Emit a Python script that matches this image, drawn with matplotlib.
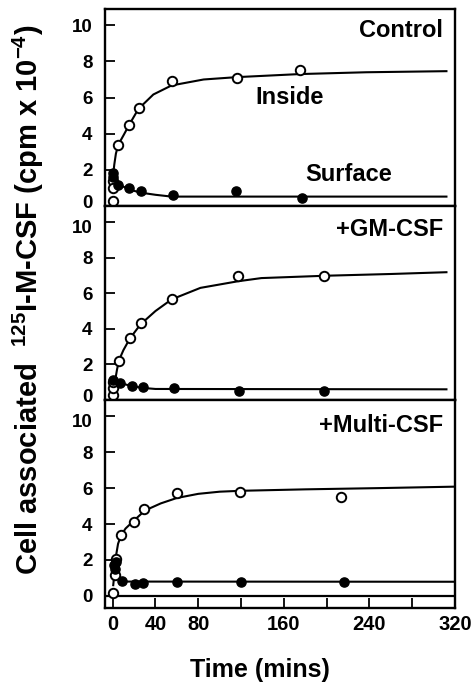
import matplotlib
matplotlib.use('Agg')
import matplotlib.pyplot as plt
import matplotlib.transforms as mtransforms

plt.rcParams['font.family'] = ['Liberation Sans', 'DejaVu Sans']
plt.rcParams['font.weight'] = 'bold'
plt.rcParams['mathtext.fontset'] = 'custom'
plt.rcParams['mathtext.bf'] = 'Liberation Sans:bold'
plt.rcParams['mathtext.rm'] = 'Liberation Sans:bold'
plt.rcParams['mathtext.default'] = 'bf'

# ---- data (time in mins, cpm x 10^-4) ----
# Control
ctrl_in_t = [0, 0, 0, 5, 15, 25, 55, 116, 175]
ctrl_in_y = [1.4, 1.0, 0.25, 3.4, 4.5, 5.4, 6.9, 7.1, 7.55]
ctrl_sf_t = [0, 0, 5, 15, 26, 56, 115, 177]
ctrl_sf_y = [1.8, 1.6, 1.15, 0.98, 0.82, 0.6, 0.85, 0.45]
ctrl_in_fit_t = [0, 1.5, 3, 5.3, 10, 15.5, 24, 38, 55, 85, 116, 175, 237, 312]
ctrl_in_fit_y = [1.5, 2.3, 2.9, 3.4, 3.9, 4.5, 5.37, 6.17, 6.67, 7.0, 7.13, 7.3, 7.4, 7.46]
ctrl_sf_fit_t = [0, 3, 6.8, 14.6, 26, 40, 55, 312]
ctrl_sf_fit_y = [1.75, 1.35, 1.17, 0.93, 0.74, 0.62, 0.52, 0.52]

# +GM-CSF
gm_in_t = [0, 0, 0, 6, 16, 26, 55, 117, 198]
gm_in_y = [0.28, 0.65, 1.0, 2.2, 3.48, 4.3, 5.7, 6.94, 6.98]
gm_sf_t = [0.5, 7, 18, 28, 57, 118, 198]
gm_sf_y = [1.15, 0.95, 0.8, 0.72, 0.7, 0.52, 0.52]
gm_in_fit_t = [0, 2, 4, 6, 10, 16, 26, 40, 55, 82, 117, 139, 198, 260, 312]
gm_in_fit_y = [0.4, 1.0, 1.7, 2.25, 2.8, 3.45, 4.25, 5.0, 5.65, 6.3, 6.67, 6.85, 6.98, 7.08, 7.18]
gm_sf_fit_t = [0, 2, 7, 18, 28, 40, 312]
gm_sf_fit_y = [0.9, 1.15, 0.95, 0.78, 0.68, 0.62, 0.6]

# +Multi-CSF
mu_in_t = [0.6, 2.2, 3, 7.8, 20, 29.6, 60, 119, 213]
mu_in_y = [0.15, 1.16, 2.04, 3.37, 4.1, 4.85, 5.7, 5.8, 5.52]
mu_sf_t = [1, 2, 3, 8.4, 20.8, 28, 60, 120, 216]
mu_sf_y = [1.72, 1.5, 1.9, 0.83, 0.66, 0.73, 0.8, 0.8, 0.8]
mu_in_fit_t = [0.5, 2, 3, 5, 7.8, 12, 20, 30, 45, 60, 80, 100, 120, 180, 250, 320]
mu_in_fit_y = [0.6, 1.5, 2.2, 2.9, 3.37, 3.75, 4.2, 4.75, 5.15, 5.45, 5.68, 5.8, 5.85, 5.93, 6.0, 6.08]
mu_sf_fit_t = [1, 2.5, 4, 6, 9, 14, 320]
mu_sf_fit_y = [1.7, 2.0, 1.5, 1.0, 0.85, 0.8, 0.79]

panel_titles = ['Control', '+GM-CSF', '+Multi-CSF']
y_ticks = [0, 2, 4, 6, 8, 10]
x_ticks = [0, 40, 80, 120, 160, 200, 240, 280, 320]
x_ticklabels = ['0', '40', '80', '', '160', '', '240', '', '320']

panels = [
    (ctrl_in_t, ctrl_in_y, ctrl_sf_t, ctrl_sf_y, ctrl_in_fit_t, ctrl_in_fit_y, ctrl_sf_fit_t, ctrl_sf_fit_y),
    (gm_in_t, gm_in_y, gm_sf_t, gm_sf_y, gm_in_fit_t, gm_in_fit_y, gm_sf_fit_t, gm_sf_fit_y),
    (mu_in_t, mu_in_y, mu_sf_t, mu_sf_y, mu_in_fit_t, mu_in_fit_y, mu_sf_fit_t, mu_sf_fit_y),
]

W, H = 476, 689
fig = plt.figure(figsize=(W / 100, H / 100), dpi=100)

# pixel boxes (top, bottom) of each panel
boxes = [(9, 206), (206, 400), (400, 608)]
left, right = 105, 455
title_y = [0.893, 0.881, 0.875]

axes = []
for i, (top, bot) in enumerate(boxes):
    ax = fig.add_axes([left / W, 1 - bot / H, (right - left) / W, (bot - top) / H])
    axes.append(ax)
    it, iy, st, sy, ift, ify, sft, sfy = panels[i]
    ax.plot(ift, ify, color='black', lw=1.5, zorder=2)
    ax.plot(sft, sfy, color='black', lw=1.5, zorder=2)
    ax.plot(it, iy, 'o', ms=6.8, mfc='white', mec='black', mew=1.4, zorder=3, clip_on=False)
    ax.plot(st, sy, 'o', ms=6.6, mfc='black', mec='black', zorder=3, clip_on=False)
    ax.set_xlim(-7.2, 320)
    if i < 2:
        ax.set_ylim(0, 10.9)
        ax.set_xticks([])
    else:
        ax.set_ylim(-0.67, 10.9)
        ax.axhline(0, color='black', lw=1.6)
        ax.set_xticks(x_ticks)
        ax.set_xticklabels(x_ticklabels)
        ax.tick_params(axis='x', direction='in', length=7, width=1.3, pad=5, labelsize=14.5)
    ax.set_yticks(y_ticks)
    ax.tick_params(axis='y', direction='in', length=7, width=1.3, pad=9, labelsize=13.5)
    # nudge the 0 / 10 labels apart where panels meet
    ticks = ax.yaxis.get_major_ticks()
    if i < 2:
        lab = ticks[0].label1
        lab.set_transform(lab.get_transform() + mtransforms.ScaledTranslation(0, 3 / 72, fig.dpi_scale_trans))
    if i > 0:
        lab = ticks[-1].label1
        lab.set_transform(lab.get_transform() + mtransforms.ScaledTranslation(0, -3 / 72, fig.dpi_scale_trans))
    for s in ax.spines.values():
        s.set_linewidth(1.7)
    ax.text(0.966, title_y[i], panel_titles[i], transform=ax.transAxes,
            ha='right', va='center', fontsize=17, fontweight='bold')

axes[0].text(133, 6.0, 'Inside', ha='left', va='center', fontsize=17, fontweight='bold')
axes[0].text(180, 1.72, 'Surface', ha='left', va='center', fontsize=17, fontweight='bold')

fig.text(28 / W, 1 - 300 / H, r'Cell associated  $^{125}$I-M-CSF (cpm x 10$^{-4}$)',
         rotation=90, ha='center', va='center', fontsize=21, fontweight='bold')
fig.text(260 / W, 1 - 670 / H, 'Time (mins)', ha='center', va='center',
         fontsize=18, fontweight='bold')

fig.savefig('out.png', dpi=100)
